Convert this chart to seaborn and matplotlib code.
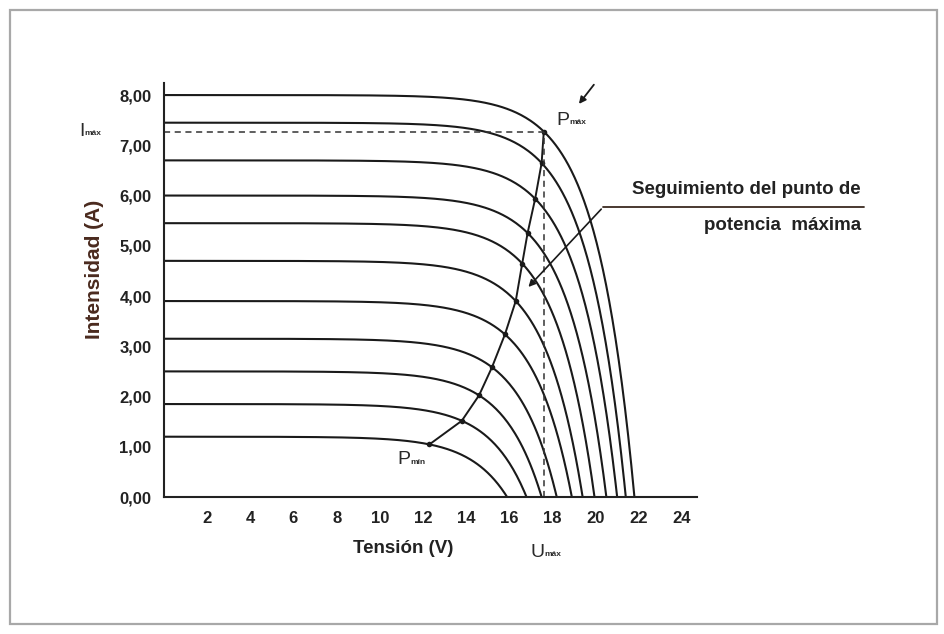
import numpy as np
import pandas as pd
import seaborn as sns
import matplotlib.pyplot as plt
from matplotlib.patches import Rectangle

sns.set_style("white")
plt.rcParams['font.family'] = ['Liberation Sans', 'DejaVu Sans']

# valores
isc = [8.0, 7.45, 6.7, 6.0, 5.45, 4.7, 3.9, 3.15, 2.5, 1.85, 1.2]     # corriente de cortocircuito (A)
voc = [21.8, 21.4, 21.0, 20.5, 19.95, 19.4, 18.9, 18.2, 17.5, 16.8, 15.9]  # tension de circuito abierto (V)
vmp = [17.6, 17.5, 17.2, 16.85, 16.6, 16.3, 15.8, 15.2, 14.6, 13.8, 12.3]  # punto de potencia maxima (V)
knee = 1.75  # forma del codo de las curvas
x_ticks = [2, 4, 6, 8, 10, 12, 14, 16, 18, 20, 22, 24]
y_ticks = [0, 1, 2, 3, 4, 5, 6, 7, 8]


def curva(v, i_sc, v_oc):
    return i_sc * (1 - (np.exp(v / knee) - 1) / (np.exp(v_oc / knee) - 1))


rows = []
for k, (i_sc, v_oc) in enumerate(zip(isc, voc)):
    for v in np.linspace(0, v_oc, 300):
        rows.append({'curva': k, 'V': v, 'I': curva(v, i_sc, v_oc)})
df = pd.DataFrame(rows)

mpp = pd.DataFrame({'V': vmp, 'I': [curva(v, i, o) for v, i, o in zip(vmp, isc, voc)]})

fig = plt.figure(figsize=(9.45, 6.34), dpi=100)
ax = fig.add_axes([164 / 945, 1 - 497 / 634, 533 / 945, 414 / 634])

sns.lineplot(data=df, x='V', y='I', hue='curva', units='curva', estimator=None,
             palette=['#1a1a1a'] * len(isc), legend=False, linewidth=1.5, ax=ax, sort=False)

# seguimiento del punto de potencia maxima
sns.lineplot(data=mpp, x='V', y='I', color='#1a1a1a', linewidth=1.4, ax=ax, sort=False,
             marker='o', markersize=4, markeredgewidth=0)

i_max = mpp['I'][0]
u_max = mpp['V'][0]
ax.plot([0, u_max], [i_max, i_max], ls=(0, (4, 3)), color='#333333', lw=1.1)
ax.plot([u_max, u_max], [0, i_max], ls=(0, (4, 3)), color='#333333', lw=1.1)

ax.set_xlim(0, 24.7)
ax.set_ylim(0, 8.24)
ax.set_xticks(x_ticks)
ax.set_xticklabels([str(t) for t in x_ticks], fontweight='bold', fontsize=12, color='#222222')
ax.set_yticks(y_ticks)
ax.set_yticklabels([f"{t:.2f}".replace('.', ',') for t in y_ticks], fontweight='bold',
                   fontsize=12, color='#222222')
ax.tick_params(axis='x', length=0, pad=10)
ax.tick_params(axis='y', length=0, pad=9)
for s in ['top', 'right']:
    ax.spines[s].set_visible(False)
for s in ['left', 'bottom']:
    ax.spines[s].set_color('#222222')
    ax.spines[s].set_linewidth(1.5)
ax.set_xlabel('')
ax.set_ylabel('')

ax.text(0.448, -0.125, 'Tensión (V)', transform=ax.transAxes, ha='center', va='center',
        fontsize=13.5, fontweight='bold', color='#222222')
ax.text(-0.131, 0.551, 'Intensidad (A)', transform=ax.transAxes, ha='center', va='center',
        rotation=90, fontsize=15, fontweight='bold', color='#4a2a1e')

# etiquetas con subindice
def etiqueta(x, y, main, sub):
    t = ax.text(x, y, main, ha='left', va='center', fontsize=14, color='#2a2a2a', clip_on=False)
    ax.annotate(sub, xy=(1, 0), xycoords=t, xytext=(0, 2), textcoords='offset points',
                ha='left', va='bottom', fontsize=6, color='#2a2a2a', fontweight='bold')

etiqueta(-3.95, 7.28, 'I', 'máx')
etiqueta(18.2, 7.5, 'P', 'máx')
etiqueta(10.8, 0.74, 'P', 'mín')
etiqueta(17.0, -1.11, 'U', 'máx')

ax.annotate('', xy=(19.15, 7.78), xytext=(20.0, 8.25),
            arrowprops=dict(arrowstyle='-|>', color='#1a1a1a', lw=1.3, mutation_scale=10),
            annotation_clip=False)

ax.annotate('', xy=(16.8, 4.14), xytext=(20.35, 5.77),
            arrowprops=dict(arrowstyle='-|>', color='#1a1a1a', lw=1.2, mutation_scale=10),
            annotation_clip=False)
ax.plot([20.35, 32.45], [5.77, 5.77], color='#3a2a20', lw=1.3, clip_on=False)
ax.text(32.3, 6.13, 'Seguimiento del punto de', ha='right', va='center', fontsize=13.5,
        fontweight='bold', color='#222222', clip_on=False)
ax.text(32.3, 5.4, 'potencia  máxima', ha='right', va='center', fontsize=13.5,
        fontweight='bold', color='#222222', clip_on=False)

# marco exterior
fig.patches.append(Rectangle((10 / 945, 1 - 624 / 634), 927 / 945, 614 / 634,
                             transform=fig.transFigure, fill=False, edgecolor='#a8a8a8', lw=1.6))

fig.savefig('out.png', dpi=100)
